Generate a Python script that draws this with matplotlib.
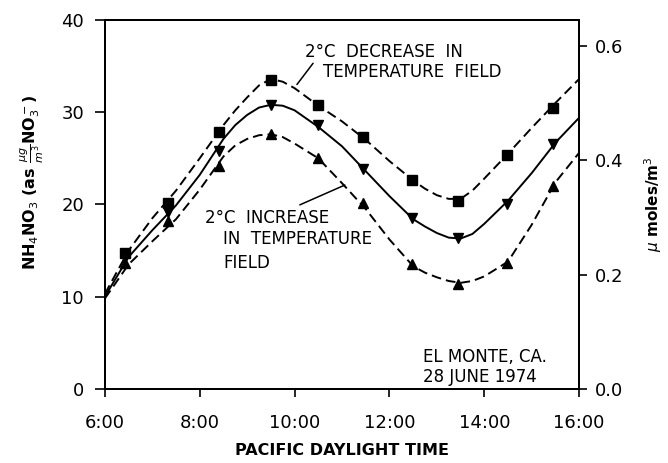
import matplotlib.pyplot as plt

# model curves (half hour steps, finer near the turns)
hours = [6.0, 6.5, 7.0, 7.5, 8.0, 8.5, 8.75, 9.0, 9.25, 9.5, 9.75, 10.0, 10.5, 11.0,
         11.5, 12.0, 12.5, 12.75, 13.0, 13.25, 13.5, 13.75, 14.0, 14.5, 15.0, 15.5, 16.0]
base_curve = [10.0, 14.3, 17.2, 19.9, 23.2, 27.1, 28.6, 29.7, 30.5, 30.8, 30.7, 30.2, 28.4, 26.3,
              23.6, 20.9, 18.4, 17.6, 16.9, 16.4, 16.3, 16.8, 17.9, 20.4, 23.4, 26.7, 29.4]
decrease_curve = [10.3, 15.0, 18.5, 21.5, 25.0, 28.6, 30.2, 31.6, 32.9, 33.6, 33.3, 32.6, 30.7, 29.0,
                  27.0, 24.7, 22.6, 21.7, 21.0, 20.6, 20.6, 21.5, 22.8, 25.5, 28.3, 31.0, 33.6]
increase_curve = [9.8, 13.5, 16.0, 18.4, 21.6, 25.2, 26.4, 27.1, 27.5, 27.6, 27.3, 26.6, 25.0, 22.3,
                  19.5, 16.2, 13.3, 12.6, 12.1, 11.7, 11.5, 11.7, 12.2, 13.8, 17.8, 22.4, 25.6]

# plotted points
marker_hours = [6.43, 7.33, 8.4, 9.5, 10.5, 11.45, 12.47, 13.45, 14.48, 15.45]
decrease_pts = [14.7, 20.2, 27.8, 33.5, 30.8, 27.3, 22.7, 20.4, 25.4, 30.5]
base_pts = [14.3, 19.2, 25.8, 30.8, 28.6, 23.8, 18.5, 16.4, 20.0, 26.5]
increase_pts = [13.6, 18.2, 24.2, 27.6, 25.0, 20.2, 13.5, 11.4, 13.6, 22.0]

tick_hours = [6, 8, 10, 12, 14, 16]
tick_labels = ['6:00', '8:00', '10:00', '12:00', '14:00', '16:00']
left_ticks = [0, 10, 20, 30, 40]
right_ticks = [0.0, 0.2, 0.4, 0.6]
ug_per_umole = 62.0

fig = plt.figure(figsize=(6.68, 4.63), dpi=100)
ax = fig.add_axes([0.157, 0.160, 0.710, 0.797])

dash = (5, 2.6)
ax.plot(hours, base_curve, color='black', lw=1.4)
ax.plot(hours, decrease_curve, color='black', lw=1.4, dashes=dash)
ax.plot(hours, increase_curve, color='black', lw=1.4, dashes=dash)

ax.plot(marker_hours, decrease_pts, ls='none', marker='s', ms=7, color='black')
ax.plot(marker_hours, base_pts, ls='none', marker='v', ms=6.5, color='black')
ax.plot(marker_hours, increase_pts, ls='none', marker='^', ms=6.5, color='black')

ax.set_xlim(6, 16)
ax.set_ylim(0, 40)
ax.set_xticks(tick_hours)
ax.set_xticklabels(tick_labels)
ax.set_yticks(left_ticks)
ax.tick_params(axis='x', direction='out', length=6, width=1.2, pad=12, labelsize=13)
ax.tick_params(axis='y', direction='out', length=7, width=1.2, pad=8, labelsize=13)
for s in ax.spines.values():
    s.set_linewidth(1.4)

ax2 = ax.twinx()
ax2.set_ylim(0, 40 / ug_per_umole)
ax2.set_yticks(right_ticks)
ax2.set_yticklabels(['%.1f' % v for v in right_ticks])
ax2.tick_params(axis='y', direction='out', length=6, width=1.2, pad=5, labelsize=13)
for s in ax2.spines.values():
    s.set_linewidth(1.4)

ax.set_xlabel('PACIFIC DAYLIGHT TIME', fontsize=11.5, fontweight='bold', labelpad=8)
ax.set_ylabel(r'NH$_4$NO$_3$ (as $\frac{\mu g}{m^3}$NO$_3^-$)', fontsize=11.5,
              fontweight='bold')
ax.yaxis.set_label_coords(-0.125, 0.56)
ax2.set_ylabel(r'$\mu$ moles/m$^3$', fontsize=11, fontweight='bold', labelpad=14)

tkw = dict(fontsize=12, va='center', ha='left')
ax.text(10.22, 36.5, '2°C  DECREASE  IN', **tkw)
ax.text(10.6, 34.4, 'TEMPERATURE  FIELD', **tkw)
ax.text(8.11, 18.5, '2°C  INCREASE', **tkw)
ax.text(8.49, 16.2, 'IN  TEMPERATURE', **tkw)
ax.text(8.49, 13.7, 'FIELD', **tkw)
ax.text(12.71, 3.5, 'EL MONTE, CA.', **tkw)
ax.text(12.71, 1.3, '28 JUNE 1974', **tkw)

ax.annotate('', xy=(10.05, 33.0), xytext=(10.39, 35.3),
            arrowprops=dict(arrowstyle='-', color='black', lw=1.1, shrinkA=0, shrinkB=0))
ax.annotate('', xy=(11.06, 22.1), xytext=(10.11, 19.95),
            arrowprops=dict(arrowstyle='-', color='black', lw=1.1, shrinkA=0, shrinkB=0))

fig.savefig('out.png', dpi=100)
